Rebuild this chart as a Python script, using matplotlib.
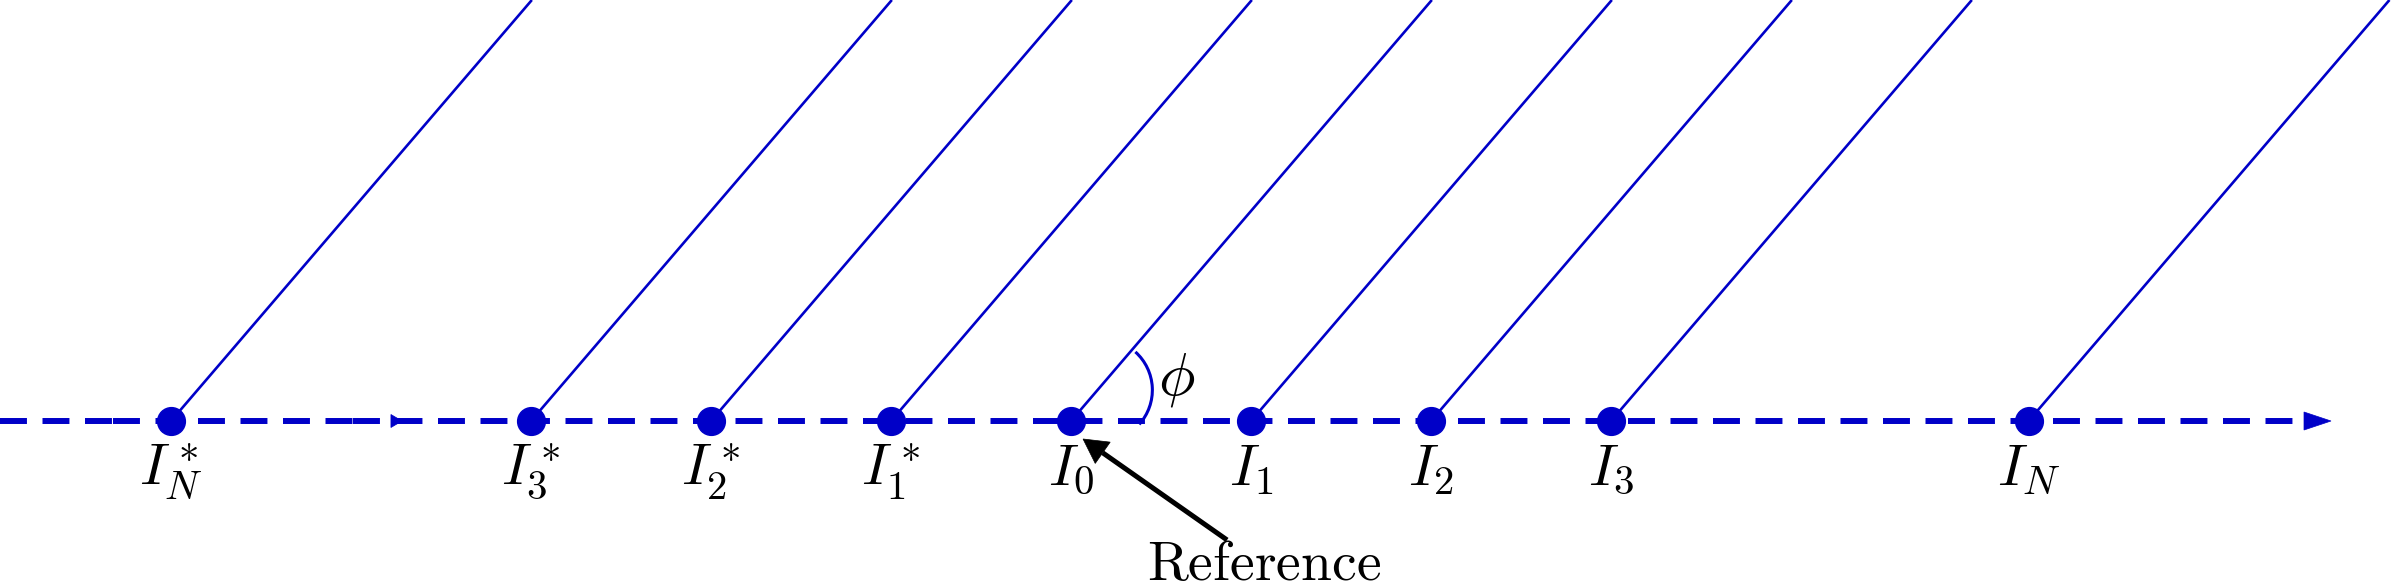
#!/usr/bin/python3

''' Phase diagram: points on a dashed axis with slanted lines, TikZ look in matplotlib. '''

import numpy as np
import matplotlib
matplotlib.use('Agg')
import matplotlib.pyplot as plt
from matplotlib.patches import Polygon, Arc

plt.rcParams['mathtext.fontset'] = 'cm'
plt.rcParams['lines.scale_dashes'] = False

BLUE = '#0000c8'
PX = 180.0  # pixels per unit

# points on the axis (units of spacing)
point_x = [-5.0, -3.0, -2.0, -1.0, 0.0, 1.0, 2.0, 3.0, 5.32]
point_labels = [r'$I_N^*$', r'$I_3^*$', r'$I_2^*$', r'$I_1^*$', r'$I_0$',
                r'$I_1$', r'$I_2$', r'$I_3$', r'$I_N$']

# slanted lines: run and rise from every point
line_dx = 2.0
line_dy = 7.0 / 3.0

# dashed axis pieces (dash pattern restarts at each break)
axis_breaks = [-5.95, -5.32, -3.99, 7.0]
mid_arrow_x = -3.717

# angle arc drawn around the reference point
arc_center = (0.167, 0.172)
arc_radius = 0.285
arc_angles = (-42.0, 48.0)

# pointer to the reference point
ref_tail = (0.867, -0.661)
ref_tip = (0.067, -0.100)


def arrow_head(ax, tip, direction, length, half_width, color):
    d = np.array(direction, float)
    d = d / np.hypot(*d)
    n = np.array([-d[1], d[0]])
    tip = np.array(tip, float)
    base = tip - d * length
    verts = [tip, base + n * half_width, base - n * half_width]
    ax.add_patch(Polygon(verts, closed=True, facecolor=color, edgecolor=color,
                         lw=0.5, zorder=4))


fig = plt.figure(figsize=(23.92, 5.88), dpi=100)
ax = fig.add_axes([0, 0, 1, 1])
ax.set_xlim(-5.95, -5.95 + 2392 / PX)
ax.set_ylim(-(588 - 421) / PX, 421 / PX)
ax.axis('off')

# dashed axis
for x0, x1 in zip(axis_breaks[:-1], axis_breaks[1:]):
    if x1 == axis_breaks[-1]:
        x1 = x1 - 20 / PX
    ax.plot([x0, x1], [0, 0], color=BLUE, lw=4.3, dashes=(19.4, 11.2),
            solid_capstyle='butt', dash_capstyle='butt', zorder=2)
arrow_head(ax, (axis_breaks[-1], 0), (1, 0), 27 / PX, 9 / PX, BLUE)
arrow_head(ax, (mid_arrow_x, 0), (1, 0), 11 / PX, 6.5 / PX, BLUE)

# slanted lines and points
for x in point_x:
    ax.plot([x, x + line_dx], [0, line_dy], color=BLUE, lw=1.9, zorder=3)
ax.plot(point_x, [0] * len(point_x), 'o', color=BLUE, markersize=20, zorder=5)

for x, lab in zip(point_x, point_labels):
    ax.text(x, -64 / PX, lab, fontsize=42, ha='center', va='baseline')

# angle phi
ax.add_patch(Arc(arc_center, 2 * arc_radius, 2 * arc_radius, theta1=arc_angles[0],
                 theta2=arc_angles[1], color=BLUE, lw=2.2, zorder=4))
ax.text(0.586, 0.228, r'$\phi$', fontsize=44, ha='center', va='center')

# reference pointer
d = np.array(ref_tip) - np.array(ref_tail)
u = d / np.hypot(*d)
head_len = 24 / PX
base = np.array(ref_tip) - u * head_len
ax.plot([ref_tail[0], base[0]], [ref_tail[1], base[1]], color='k', lw=3.6,
        solid_capstyle='butt', zorder=4)
arrow_head(ax, ref_tip, d, head_len, 13 / PX, 'k')
ax.text(1.072, -(580 - 421) / PX, r'$\mathrm{Reference}$', fontsize=40,
        ha='center', va='baseline')

fig.savefig('out.png', dpi=100)
